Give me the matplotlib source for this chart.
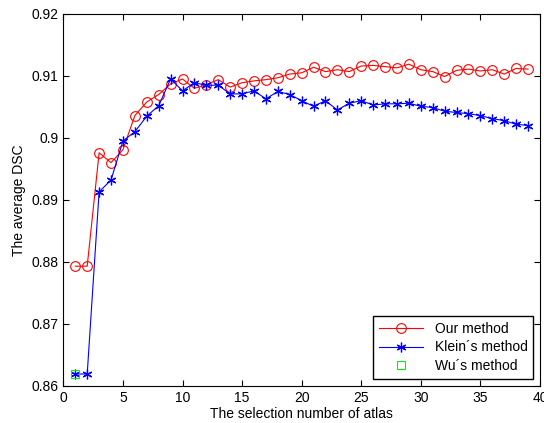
"""Gráfico de DSC promedio según número de atlas"""
import matplotlib
matplotlib.use("Agg")
import matplotlib.pyplot as plt
import matplotlib.ticker as mtick

plt.rcParams['font.family'] = ['Liberation Sans', 'DejaVu Sans']

# Datos
NUM_ATLAS = list(range(1, 40))

DSC_NUESTRO = [0.8793, 0.8793, 0.8976, 0.8960, 0.8981, 0.9036, 0.9058,
               0.9070, 0.9087, 0.9095, 0.9080, 0.9086, 0.9094, 0.9082,
               0.9089, 0.9092, 0.9094, 0.9097, 0.9103, 0.9105, 0.9114,
               0.9107, 0.9110, 0.9107, 0.9116, 0.9117, 0.9115, 0.9113,
               0.9119, 0.9110, 0.9107, 0.9099, 0.9109, 0.9111, 0.9108,
               0.9110, 0.9103, 0.9112, 0.9111]

DSC_KLEIN = [0.8619, 0.8619, 0.8913, 0.8932, 0.8995, 0.9010, 0.9035,
             0.9052, 0.9095, 0.9076, 0.9089, 0.9085, 0.9085, 0.9071,
             0.9071, 0.9076, 0.9063, 0.9075, 0.9070, 0.9060, 0.9051,
             0.9060, 0.9045, 0.9056, 0.9060, 0.9053, 0.9055, 0.9055,
             0.9056, 0.9051, 0.9049, 0.9043, 0.9041, 0.9039, 0.9036,
             0.9031, 0.9028, 0.9022, 0.9020]

WU_X = [1]
DSC_WU = [0.8619]

figura = plt.figure(figsize=(5.44, 4.23), dpi=100)
eje = figura.add_axes([0.1165, 0.088, 0.876, 0.879])

eje.plot(NUM_ATLAS, DSC_NUESTRO, color='red', marker='o', markersize=7,
         markerfacecolor='none', markeredgewidth=0.8, linewidth=0.8,
         label="Our method")
eje.plot(NUM_ATLAS, DSC_KLEIN, color='blue', marker=(6, 2, 0), markersize=7,
         markeredgewidth=0.9, linewidth=0.8, label="Klein\u00b4s method")
eje.plot(WU_X, DSC_WU, color='#00ee00', marker='s', markersize=5.5,
         markerfacecolor='none', markeredgewidth=0.8, linestyle='none',
         label="Wu\u00b4s method")

eje.set_xlim(0, 40)
eje.set_ylim(0.86, 0.92)
eje.set_xticks(range(0, 41, 5))
eje.set_yticks([0.86, 0.87, 0.88, 0.89, 0.90, 0.91, 0.92])
eje.yaxis.set_major_formatter(mtick.FuncFormatter(lambda v, p: "{0:g}".format(round(v, 2))))
eje.tick_params(direction='in', top=True, right=True, labelsize=10, length=4)
for lado in eje.spines.values():
    lado.set_linewidth(0.8)

eje.set_xlabel("The selection number of atlas", fontsize=10, labelpad=2)
eje.set_ylabel("The average DSC", fontsize=10, labelpad=4)

eje.legend(loc='lower right', fontsize=10, fancybox=False, framealpha=1,
           edgecolor='black', handlelength=3.2, borderaxespad=0.5,
           labelspacing=0.35)

figura.savefig("out.png", dpi=100)
